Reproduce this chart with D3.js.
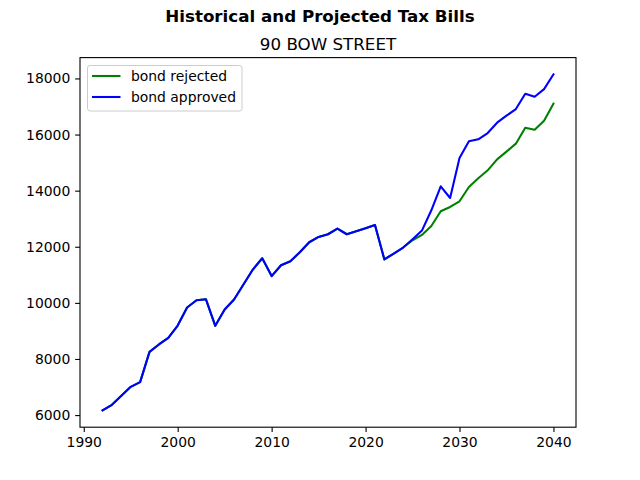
<!DOCTYPE html>
<html>
<head>
<meta charset="utf-8">
<script src="https://cdn.jsdelivr.net/npm/d3@7"></script>
<style>
  body { margin: 0; background: #fff; }
  svg { font-family: "DejaVu Sans", sans-serif; }
</style>
</head>
<body>
<script>
// data
var years = d3.range(1992, 2041);
var approved = [6167, 6367, 6688, 7008, 7175, 8255, 8517, 8753, 9193, 9835,
  10095, 10131, 9181, 9764, 10120, 10654, 11188, 11591, 10955, 11342,
  11484, 11805, 12161, 12350, 12446, 12649, 12446, 12553, 12660, 12777,
  11550, 11759, 11972, 12268, 12577, 13300, 14155, 13739, 15164, 15758,
  15829, 16054, 16423, 16672, 16908, 17456, 17349, 17621, 18144];
var rejected = approved.slice(0, 33).concat([12232, 12421, 12742, 13265, 13419,
  13621, 14131, 14440, 14725, 15117, 15390, 15675, 16245, 16174, 16495, 17100]);
var seriesNames = ['bond rejected', 'bond approved'];
var seriesColors = ['green', 'blue'];
var yTicks = [6000, 8000, 10000, 12000, 14000, 16000, 18000];
var xTicks = [1990, 2000, 2010, 2020, 2030, 2040];

var W = 640, H = 480;
var axLeft = 80, axRight = 576, axTop = 57.6, axBottom = 427.2;

var svg = d3.select('body').append('svg')
  .attr('width', W)
  .attr('height', H);

// matplotlib style 5% margins
var xr = [1992, 2040], xpad = (xr[1] - xr[0]) * 0.05;
var allVals = approved.concat(rejected);
var yr = d3.extent(allVals), ypad = (yr[1] - yr[0]) * 0.05;

var x = d3.scaleLinear().domain([xr[0] - xpad, xr[1] + xpad]).range([axLeft, axRight]);
var y = d3.scaleLinear().domain([yr[0] - ypad, yr[1] + ypad]).range([axBottom, axTop]);

var series = [
  years.map(function(d, i) { return [d, rejected[i]]; }),
  years.map(function(d, i) { return [d, approved[i]]; })
];

var line = d3.line()
  .x(function(d) { return x(d[0]); })
  .y(function(d) { return y(d[1]); });

svg.selectAll('path.series')
  .data(series)
  .enter()
  .append('path')
  .attr('class', 'series')
  .attr('d', line)
  .attr('fill', 'none')
  .attr('stroke', function(d, i) { return seriesColors[i]; })
  .attr('stroke-width', 2.08)
  .attr('stroke-linejoin', 'round')
  .attr('stroke-linecap', 'square');

// axes
var xAxis = d3.axisBottom(x).tickValues(xTicks).tickFormat(d3.format('d'))
  .tickSize(4.86).tickPadding(4.86);
var yAxis = d3.axisLeft(y).tickValues(yTicks).tickFormat(d3.format('d'))
  .tickSize(4.86).tickPadding(4.86);

var gx = svg.append('g').attr('transform', 'translate(0,' + axBottom + ')').call(xAxis);
var gy = svg.append('g').attr('transform', 'translate(' + axLeft + ',0)').call(yAxis);
[gx, gy].forEach(function(g) {
  g.select('.domain').remove();
  g.selectAll('line').attr('stroke', '#000').attr('stroke-width', 1.1);
  g.selectAll('text').attr('font-size', 13.9).attr('fill', '#000')
    .attr('font-family', '"DejaVu Sans", sans-serif');
});

svg.append('rect')
  .attr('x', axLeft).attr('y', axTop)
  .attr('width', axRight - axLeft).attr('height', axBottom - axTop)
  .attr('fill', 'none').attr('stroke', '#000').attr('stroke-width', 1.1);

// titles
svg.append('text')
  .attr('x', W / 2).attr('y', 22)
  .attr('text-anchor', 'middle')
  .attr('font-size', 16.7).attr('font-weight', 'bold')
  .text('Historical and Projected Tax Bills');

svg.append('text')
  .attr('x', (axLeft + axRight) / 2).attr('y', 49.5)
  .attr('text-anchor', 'middle')
  .attr('font-size', 16.7)
  .text('90 BOW STREET');

// legend
var legend = svg.append('g');
legend.append('rect')
  .attr('x', 87.5).attr('y', 65.5)
  .attr('width', 154.5).attr('height', 45.5)
  .attr('rx', 2.5)
  .attr('fill', '#fff').attr('fill-opacity', 0.8)
  .attr('stroke', '#ccc').attr('stroke-width', 1);

var items = legend.selectAll('g.item')
  .data(seriesNames)
  .enter()
  .append('g')
  .attr('transform', function(d, i) { return 'translate(0,' + (76 + i * 21) + ')'; });

items.append('line')
  .attr('x1', 92).attr('x2', 120.5)
  .attr('stroke', function(d, i) { return seriesColors[i]; })
  .attr('stroke-width', 2.08);

items.append('text')
  .attr('x', 131).attr('y', 5)
  .attr('font-size', 13.9)
  .text(function(d) { return d; });
</script>
</body>
</html>
